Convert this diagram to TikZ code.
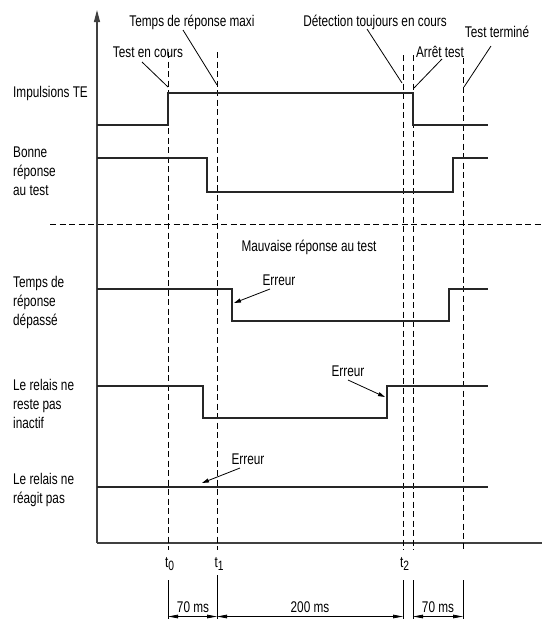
\documentclass[tikz,border=0pt]{standalone}
\usepackage{fontspec}
\setmainfont[FakeStretch=0.76]{Liberation Sans}
\usetikzlibrary{arrows.meta}
\begin{document}
\begin{tikzpicture}[x=1pt,y=-1pt,
  sig/.style={line width=2.6pt, line join=miter, line cap=butt, color=black!85},
  axisline/.style={line width=1.1pt, color=black!75},
  guide/.style={line width=0.9pt, dash pattern=on 6pt off 3.5pt},
  sepline/.style={line width=0.9pt, dash pattern=on 6pt off 3.5pt},
  lead/.style={line width=0.8pt},
  errarrow/.style={line width=0.8pt, -{Triangle[length=7pt,width=4pt]}},
  dimline/.style={line width=0.8pt},
  dimarrow/.style={line width=0.8pt, {Triangle[length=10pt,width=3.6pt]}-{Triangle[length=10pt,width=3.6pt]}},
  lbl/.style={inner sep=0pt, font=\fontsize{15.5}{18.6}\selectfont},
  sidelbl/.style={lbl, align=left, anchor=base west},
  toplbl/.style={lbl, anchor=base},
]
\useasboundingbox (0,0) rectangle (542,619);

% axes
\coordinate (O) at (97,543);
\coordinate (ytop) at (97,10);
\coordinate (xend) at (542,543);
\draw[axisline, -{Triangle[length=12pt,width=6pt]}] (O) -- (ytop);
\draw[axisline] (O) -- (xend);

% time guides
\coordinate (g0t) at (168,52);  \coordinate (g0b) at (168,550);
\coordinate (g1t) at (217,52);  \coordinate (g1b) at (217,550);
\coordinate (g2t) at (403,55);  \coordinate (g2b) at (403,550);
\coordinate (g3t) at (413,55);  \coordinate (g3b) at (413,550);
\coordinate (g4t) at (463,58);  \coordinate (g4b) at (463,550);
\foreach \g in {0,...,4} \draw[guide] (g\g t) -- (g\g b);

% separator
\coordinate (sepL) at (50,224); \coordinate (sepR) at (542,224);
\draw[sepline] (sepL) -- (sepR);

% signals
\draw[sig] (97,125) -- (168,125) -- (168,93) -- (413,93) -- (413,125) -- (488,125);
\draw[sig] (97,158) -- (207,158) -- (207,192) -- (453,192) -- (453,158) -- (488,158);
\draw[sig] (97,289) -- (232,289) -- (232,321) -- (449,321) -- (449,289) -- (488,289);
\draw[sig] (97,386) -- (203,386) -- (203,418) -- (387,418) -- (387,386) -- (488,386);
\draw[sig] (97,487) -- (488,487);

% side labels (anchor at baseline of the last line)
\node[sidelbl] (lImp) at (13,97) {Impulsions TE};
\node[sidelbl] (lBon) at (13,195) {Bonne\\réponse\\au test};
\node[sidelbl] (lDep) at (13,325) {Temps de\\réponse\\dépassé};
\node[sidelbl] (lIna) at (13,428) {Le relais ne\\reste pas\\inactif};
\node[sidelbl] (lRea) at (13,503) {Le relais ne\\réagit pas};

% top labels and leaders
\node[toplbl] (tMaxi) at (192,26) {Temps de réponse maxi};
\node[toplbl] (tCours) at (148,57) {Test en cours};
\node[toplbl] (tDet) at (375,26) {Détection toujours en cours};
\node[toplbl] (tArr) at (440,57) {Arrêt test};
\node[toplbl] (tFin) at (497,37) {Test terminé};
\coordinate (aMaxi) at (183,30);   \coordinate (bMaxi) at (217,85);
\coordinate (aCours) at (142,62);  \coordinate (bCours) at (168,87);
\coordinate (aDet) at (367,29);    \coordinate (bDet) at (402,83);
\coordinate (aArr) at (442,59);    \coordinate (bArr) at (414,88);
\coordinate (aFin) at (491,46);    \coordinate (bFin) at (464,87);
\draw[lead] (aMaxi) -- (bMaxi);
\draw[lead] (aCours) -- (bCours);
\draw[lead] (aDet) -- (bDet);
\draw[lead] (aArr) -- (bArr);
\draw[lead] (aFin) -- (bFin);

% middle title
\node[toplbl] (mauv) at (309,251) {Mauvaise réponse au test};

% errors
\node[toplbl] (e1) at (279,285) {Erreur};
\node[toplbl] (e2) at (348,376) {Erreur};
\node[toplbl] (e3) at (248,464) {Erreur};
\coordinate (e1a) at (270,289); \coordinate (e1b) at (234,303);
\coordinate (e2a) at (348,380); \coordinate (e2b) at (385,397);
\coordinate (e3a) at (240,468); \coordinate (e3b) at (202,483);
\draw[errarrow] (e1a) -- (e1b);
\draw[errarrow] (e2a) -- (e2b);
\draw[errarrow] (e3a) -- (e3b);

% time marks
\node[lbl, anchor=base west] (t0) at (165,567) {t\raisebox{-3.5pt}{\fontsize{13.5}{13.5}\selectfont 0}};
\node[lbl, anchor=base west] (t1) at (214.5,567) {t\raisebox{-3.5pt}{\fontsize{13.5}{13.5}\selectfont 1}};
\node[lbl, anchor=base west] (t2) at (400,567) {t\raisebox{-3.5pt}{\fontsize{13.5}{13.5}\selectfont 2}};

% dimensions
\coordinate (d0t) at (168,580); \coordinate (d0b) at (168,619);
\coordinate (d1t) at (217,575); \coordinate (d1b) at (217,619);
\coordinate (d2t) at (403,580); \coordinate (d2b) at (403,619);
\coordinate (d3t) at (413,580); \coordinate (d3b) at (413,619);
\coordinate (d4t) at (463,580); \coordinate (d4b) at (463,619);
\foreach \d in {0,...,4} \draw[dimline] (d\d t) -- (d\d b);
\coordinate (m0) at (168,616.5); \coordinate (m1) at (217,616.5);
\coordinate (m2) at (403,616.5); \coordinate (m3) at (413,616.5);
\coordinate (m4) at (463,616.5);
\draw[dimarrow] (m0) -- (m1);
\draw[dimarrow] (m1) -- (m2);
\draw[dimarrow] (m3) -- (m4);
\node[toplbl] (dA) at (193,612.5) {70 ms};
\node[toplbl] (dB) at (310,612.5) {200 ms};
\node[toplbl] (dC) at (438,612.5) {70 ms};
\end{tikzpicture}
\end{document}
